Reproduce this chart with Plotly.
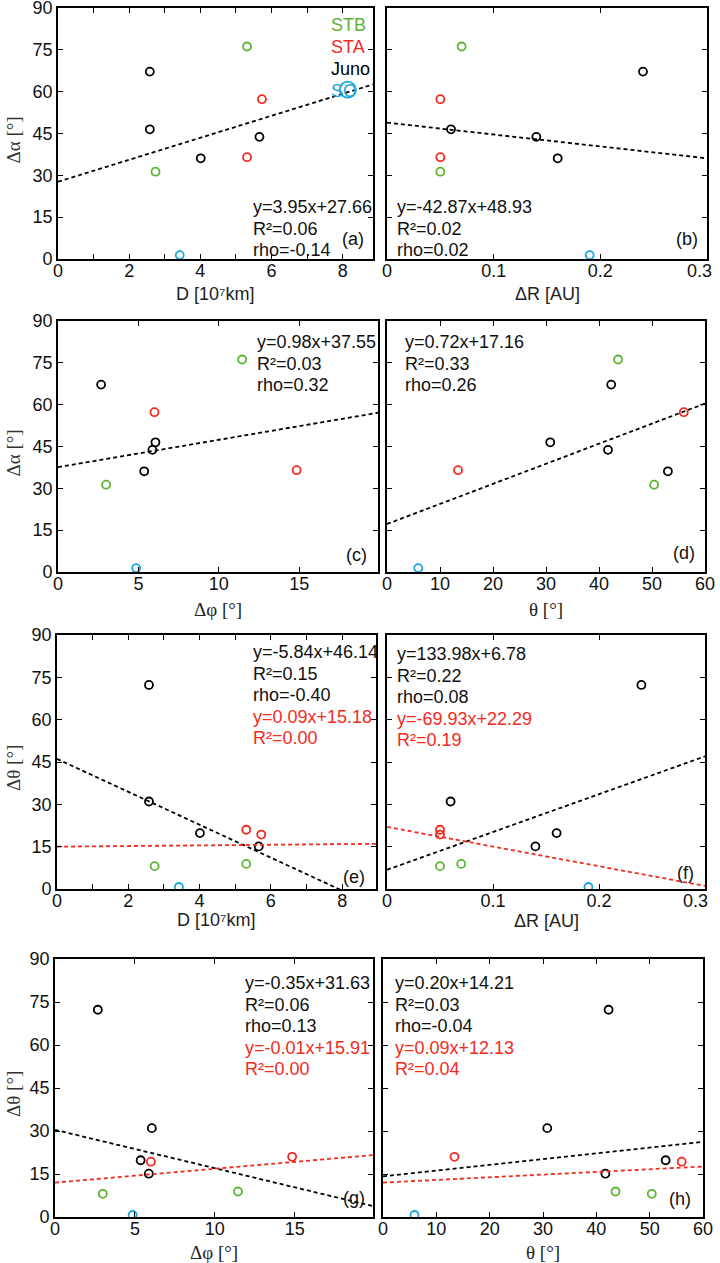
import plotly.graph_objects as go

# 사건별 값
juno_D = [2.58, 2.58, 4.01, 5.66]
juno_dR = [0.24, 0.06, 0.16, 0.14]
juno_dphi = [2.68, 6.06, 5.36, 5.87]
juno_theta = [42.3, 30.8, 53.0, 41.7]
juno_dalpha = [67.2, 46.5, 36.1, 43.8]
juno_dtheta = [72.3, 31.0, 19.8, 15.1]

stb_D = [5.31, 2.74]
stb_dR = [0.07, 0.05]
stb_dphi = [11.45, 2.99]
stb_theta = [43.6, 50.4]
stb_dalpha = [76.2, 31.3]
stb_dtheta = [8.9, 8.1]

sta_D = [5.31, 5.73]
sta_dR = [0.05, 0.05]
sta_dphi = [14.84, 6.0]
sta_theta = [13.4, 56.0]
sta_dalpha = [36.5, 57.3]
sta_dtheta = [21.0, 19.3]

so_D = [3.42]
so_dR = [0.19]
so_dphi = [4.86]
so_theta = [5.9]
so_dalpha = [1.4]
so_dtheta = [0.7]

# 범례 옆의 SO 원
so_legend_D = [8.14]
so_legend_dalpha = [60.7]

# 회귀선 양 끝 값
fit_a_x, fit_a_y = [0, 8.85], [27.7, 62.6]
fit_b_x, fit_b_y = [0, 0.3], [48.9, 36.1]
fit_c_x, fit_c_y = [0, 19.9], [37.6, 57.1]
fit_d_x, fit_d_y = [0, 60], [17.2, 60.4]
fit_e_x, fit_e_black, fit_e_red = [0, 8.95], [46.1, -6.1], [15.0, 16.0]
fit_f_x, fit_f_black, fit_f_red = [0, 0.3], [6.8, 47.0], [22.0, 1.1]
fit_g_x, fit_g_black, fit_g_red = [0, 19.9], [30.4, 3.8], [12.0, 21.6]
fit_h_x, fit_h_black, fit_h_red = [0, 60], [14.2, 26.2], [12.0, 17.6]

GREEN, RED, BLUE = '#5cb531', '#f42a1e', '#19a6e3'
W, H = 720, 1263

craft = [
    ('STB', GREEN, {'D': stb_D, 'dR': stb_dR, 'dphi': stb_dphi, 'theta': stb_theta,
                    'dalpha': stb_dalpha, 'dtheta': stb_dtheta}),
    ('STA', RED, {'D': sta_D, 'dR': sta_dR, 'dphi': sta_dphi, 'theta': sta_theta,
                  'dalpha': sta_dalpha, 'dtheta': sta_dtheta}),
    ('Juno', 'black', {'D': juno_D, 'dR': juno_dR, 'dphi': juno_dphi, 'theta': juno_theta,
                       'dalpha': juno_dalpha, 'dtheta': juno_dtheta}),
    ('SO', BLUE, {'D': so_D, 'dR': so_dR, 'dphi': so_dphi, 'theta': so_theta,
                  'dalpha': so_dalpha, 'dtheta': so_dtheta}),
]

# 0.3 눈금 라벨은 오른쪽 끝에서 안쪽으로 밀려 있어 따로 씀
xticks = {
    'D': ([0, 1, 2, 3, 4, 5, 6, 7, 8], ['0', '', '2', '', '4', '', '6', '', '8']),
    'dR': ([0, 0.1, 0.2, 0.3], ['0', '0.1', '0.2', '']),
    'dphi': ([0, 5, 10, 15], ['0', '5', '10', '15']),
    'theta': ([0, 10, 20, 30, 40, 50, 60], ['0', '10', '20', '30', '40', '50', '60']),
}
xtitles = {
    'D': ('D [10⁷km]', 'Liberation Sans'),
    'dR': ('ΔR [AU]', 'Liberation Sans'),
    'dphi': ('Δφ [°]', 'Liberation Serif'),
    'theta': ('θ [°]', 'Liberation Serif'),
}

# (패널, x변수, y변수, x범위, 픽셀 영역 [x0, x1, y0, y1], 회귀선, 텍스트, 라벨, x제목 위치)
panels = [
    ('a', 'D', 'dalpha', [0, 8.85], [58, 373, 8, 259],
     [(fit_a_x, fit_a_y, 'black')],
     (251, 207, ['y=3.95x+27.66', 'R²=0.06', 'rho=-0.14'], 0), (366, 239), 294),
    ('b', 'dR', 'dalpha', [0, 0.3], [387, 707, 8, 259],
     [(fit_b_x, fit_b_y, 'black')],
     (395, 207, ['y=-42.87x+48.93', 'R²=0.02', 'rho=0.02'], 0), (700, 239), 294),
    ('c', 'dphi', 'dalpha', [0, 19.9], [58, 378, 321, 572],
     [(fit_c_x, fit_c_y, 'black')],
     (255, 342, ['y=0.98x+37.55', 'R²=0.03', 'rho=0.32'], 0), (369, 555), 609),
    ('d', 'theta', 'dalpha', [0, 60], [387, 705, 321, 572],
     [(fit_d_x, fit_d_y, 'black')],
     (403, 342, ['y=0.72x+17.16', 'R²=0.33', 'rho=0.26'], 0), (697, 553), 609),
    ('e', 'D', 'dtheta', [0, 8.95], [57, 376, 635, 889],
     [(fit_e_x, fit_e_black, 'black'), (fit_e_x, fit_e_red, RED)],
     (251, 652, ['y=-5.84x+46.14', 'R²=0.15', 'rho=-0.40', 'y=0.09x+15.18', 'R²=0.00'], 2), (367, 877), 920),
    ('f', 'dR', 'dtheta', [0, 0.3], [387, 705, 635, 889],
     [(fit_f_x, fit_f_black, 'black'), (fit_f_x, fit_f_red, RED)],
     (395, 654, ['y=133.98x+6.78', 'R²=0.22', 'rho=0.08', 'y=-69.93x+22.29', 'R²=0.19'], 2), (696, 873), 921),
    ('g', 'dphi', 'dtheta', [0, 19.9], [55, 373, 959, 1217],
     [(fit_g_x, fit_g_black, 'black'), (fit_g_x, fit_g_red, RED)],
     (243, 983, ['y=-0.35x+31.63', 'R²=0.06', 'rho=0.13', 'y=-0.01x+15.91', 'R²=0.00'], 2), (367, 1198), 1252),
    ('h', 'theta', 'dtheta', [0, 60], [383, 703, 959, 1217],
     [(fit_h_x, fit_h_black, 'black'), (fit_h_x, fit_h_red, RED)],
     (393, 983, ['y=0.20x+14.21', 'R²=0.03', 'rho=-0.04', 'y=0.09x+12.13', 'R²=0.04'], 2), (693, 1199), 1252),
]

fig = go.Figure()
annotations = []


def ann(text, x, y, size=18, color='#111', family='Liberation Sans', xanchor='left', angle=0):
    annotations.append(dict(
        text=text, x=x / W, y=1 - y / H, xref='paper', yref='paper',
        xanchor=xanchor, yanchor='middle', showarrow=False, textangle=angle,
        font=dict(size=size, color=color, family=family)))


for i, (lab, xv, yv, xr, box, fits, txt, plab, xty) in enumerate(panels):
    n = '' if i == 0 else str(i + 1)
    xa, ya = 'x' + n, 'y' + n

    for name, color, d in craft:
        fig.add_trace(go.Scatter(
            x=d[xv], y=d[yv], mode='markers', xaxis=xa, yaxis=ya, showlegend=False,
            marker=dict(symbol='circle-open', size=8, color=color, line=dict(width=1.8, color=color))))
    for fx, fy, c in fits:
        fig.add_trace(go.Scatter(
            x=fx, y=fy, mode='lines', xaxis=xa, yaxis=ya, showlegend=False,
            line=dict(color=c, width=1.8, dash='4px,3px')))

    x0, x1, y0, y1 = box
    tv, tt = xticks[xv]
    common = dict(showline=True, mirror='ticks', linecolor='black', linewidth=1.6,
                  ticks='inside', ticklen=5, tickwidth=1.2, tickcolor='black',
                  showgrid=False, zeroline=False, automargin=False,
                  ticklabeloverflow='allow',
                  tickfont=dict(size=18, color='#111', family='Liberation Sans'))
    fig.layout['xaxis' + n] = dict(domain=[x0 / W, x1 / W], range=xr, anchor=ya,
                                   tickvals=tv, ticktext=tt, ticklabelstandoff=-5, **common)
    fig.layout['yaxis' + n] = dict(domain=[1 - y1 / H, 1 - y0 / H], range=[0, 90], anchor=xa,
                                   tickvals=[0, 15, 30, 45, 60, 75, 90],
                                   showticklabels=(i % 2 == 0), **common)
    if xv == 'dR':
        ann('0.3', x1 - 8 if lab == 'b' else x1 - 10, y1 + 12, xanchor='center')

    # 회귀식 텍스트
    tx, ty, lines, nred = txt
    for k, line in enumerate(lines):
        color = RED if k >= len(lines) - nred else '#111'
        ann(line, tx, ty + k * 21.5, color=color)
    ann('(' + lab + ')', plab[0], plab[1], xanchor='right')

    # 축 제목
    t, fam = xtitles[xv]
    ann(t, (x0 + x1) / 2, xty, size=18 if fam.endswith('Sans') else 19,
        color='#222', family=fam, xanchor='center')
    if i % 2 == 0:
        yt = 'Δα [°]' if yv == 'dalpha' else 'Δθ [°]'
        ann(yt, 13, (y0 + y1) / 2 + 6, size=19, color='#333', family='Liberation Serif',
            xanchor='center', angle=-90)

# (a) 범례
fig.add_trace(go.Scatter(
    x=so_legend_D, y=so_legend_dalpha, mode='markers', xaxis='x', yaxis='y', showlegend=False,
    marker=dict(symbol='circle-open', size=16, color=BLUE, line=dict(width=1.8, color=BLUE))))
for k, (name, color, d) in enumerate(craft):
    ann(name, 329, 25 + k * 22, size=18, color=color)

fig.update_layout(
    width=W, height=H, margin=dict(l=0, r=0, t=0, b=0),
    paper_bgcolor='white', plot_bgcolor='white',
    annotations=annotations,
)

# 페이지 기본 여백 제거
fig.write_html("out.html", config={'displayModeBar': False},
               post_script="document.body.style.margin='0px';")
